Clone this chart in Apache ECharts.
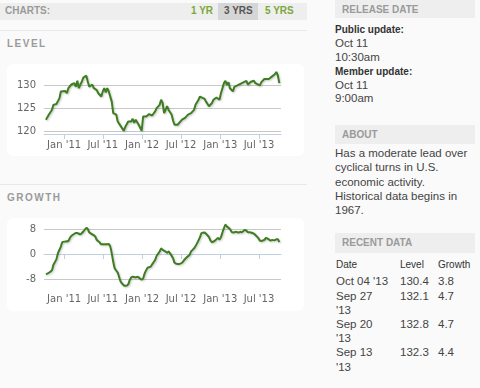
<!DOCTYPE html>
<html>
<head>
<meta charset="utf-8">
<script src="https://cdn.jsdelivr.net/npm/echarts@6/dist/echarts.min.js"></script>
<style>
  html, body { margin:0; padding:0; width:480px; height:388px; background:#fafafa; overflow:hidden; font-family:"Liberation Sans", Arial, sans-serif; }
  .abs { position:absolute; white-space:nowrap; }
  .bar { position:absolute; background:#eeeeee; }
  .hdr { position:absolute; font-size:10px; font-weight:bold; color:#9a9a9a; line-height:12px; }
  .box { position:absolute; background:#ffffff; border-radius:6px; }
  .sep { position:absolute; height:1px; background:#e8e8e8; }
  .lbl { position:absolute; font-size:10px; font-weight:bold; color:#333; line-height:12px; }
  .txt { position:absolute; font-size:11.5px; color:#444; line-height:14px; white-space:nowrap; }
  .th  { position:absolute; font-size:10px; color:#333; line-height:12px; }
  #chart { position:absolute; left:0; top:0; width:480px; height:388px; }
</style>
</head>
<body>
<!-- left column chrome -->
<div class="bar" style="left:0;top:3px;width:307px;height:17px;"></div>
<div class="bar" style="left:218px;top:3px;width:40px;height:17px;background:#d6d6d6;"></div>
<div class="hdr" style="left:5px;top:5px;">CHARTS:</div>
<div class="hdr" style="left:191px;top:5px;color:#7aa83a;">1 YR</div>
<div class="hdr" style="left:224px;top:5px;color:#555;">3 YRS</div>
<div class="hdr" style="left:265px;top:5px;color:#7aa83a;">5 YRS</div>
<div class="sep" style="left:0;top:30px;width:307px;"></div>
<div class="hdr" style="left:7px;top:38px;letter-spacing:1.5px;">LEVEL</div>
<div class="box" style="left:7px;top:64px;width:297px;height:92px;"></div>
<div class="sep" style="left:0;top:184px;width:307px;"></div>
<div class="hdr" style="left:7px;top:192px;letter-spacing:1.5px;">GROWTH</div>
<div class="box" style="left:7px;top:218px;width:297px;height:93px;"></div>

<!-- right column -->
<div class="bar" style="left:335px;top:0;width:140px;height:18px;"></div>
<div class="hdr" style="left:342px;top:4px;">RELEASE DATE</div>
<div class="lbl" style="left:335px;top:24px;">Public update:</div>
<div class="txt" style="left:335px;top:36px;">Oct 11</div>
<div class="txt" style="left:335px;top:50px;">10:30am</div>
<div class="lbl" style="left:335px;top:66px;">Member update:</div>
<div class="txt" style="left:335px;top:78px;">Oct 11</div>
<div class="txt" style="left:335px;top:91px;">9:00am</div>

<div class="bar" style="left:335px;top:125px;width:140px;height:19px;"></div>
<div class="hdr" style="left:342px;top:129px;">ABOUT</div>
<div class="txt" style="left:335px;top:146px;">Has a moderate lead over</div>
<div class="txt" style="left:335px;top:160px;">cyclical turns in U.S.</div>
<div class="txt" style="left:335px;top:175px;">economic activity.</div>
<div class="txt" style="left:335px;top:189px;">Historical data begins in</div>
<div class="txt" style="left:335px;top:203px;">1967.</div>

<div class="bar" style="left:335px;top:233px;width:140px;height:20px;"></div>
<div class="hdr" style="left:342px;top:237px;">RECENT DATA</div>
<div class="th" style="left:336px;top:259px;">Date</div>
<div class="th" style="left:400px;top:259px;">Level</div>
<div class="th" style="left:438px;top:259px;">Growth</div>

<div class="txt" style="left:336px;top:274px;">Oct 04 '13</div>
<div class="txt" style="left:400px;top:274px;">130.4</div>
<div class="txt" style="left:438px;top:274px;">3.8</div>

<div class="txt" style="left:336px;top:289px;">Sep 27</div>
<div class="txt" style="left:336px;top:303px;">'13</div>
<div class="txt" style="left:400px;top:289px;">132.1</div>
<div class="txt" style="left:438px;top:289px;">4.7</div>

<div class="txt" style="left:336px;top:317px;">Sep 20</div>
<div class="txt" style="left:336px;top:331px;">'13</div>
<div class="txt" style="left:400px;top:317px;">132.8</div>
<div class="txt" style="left:438px;top:317px;">4.7</div>

<div class="txt" style="left:336px;top:345px;">Sep 13</div>
<div class="txt" style="left:336px;top:360px;">'13</div>
<div class="txt" style="left:400px;top:345px;">132.3</div>
<div class="txt" style="left:438px;top:345px;">4.4</div>

<div id="chart"></div>
<script>
// Weekly series; week 0 = Oct 8 2010, week 156 = Oct 4 2013
const firstWeek = '2010-10-08';

const levelWeeks = [0,2,4,5,6,7,9,10,11,13,14,15,17,18,19,20,21,22,23,24,25,26,27,28,29,31,32,34,35,37,38,39,40,41,42,44,45,46,47,48,50,52,53,55,56,57,58,59,60,62,63,64,65,67,68,69,71,73,74,76,77,78,79,80,81,82,84,85,86,87,88,89,91,92,93,94,95,97,99,100,102,103,104,106,107,109,111,112,114,115,116,117,119,120,121,122,123,125,126,128,129,131,132,134,135,137,139,140,141,143,144,146,147,149,150,151,152,153,154,155,156];
const levelValues = [122.5,123.6,124.6,125.7,126.0,125.9,127.1,128.6,128.9,128.7,128.2,129.3,130.1,129.9,130.4,129.6,130.9,129.3,130.1,130.7,131.6,131.3,132.0,130.7,129.6,130.1,129.3,128.9,128.2,127.5,128.6,129.3,128.4,129.3,128.6,126.4,123.9,123.6,123.6,122.1,121.1,120.1,120.9,122.1,122.5,122.1,122.7,121.8,122.5,121.4,121.1,120.1,123.2,123.2,123.6,123.7,123.4,124.3,125.0,125.7,126.8,126.1,123.9,124.3,125.4,124.6,123.6,122.3,121.4,121.8,121.4,121.8,122.5,122.7,122.9,123.2,123.6,123.9,124.6,125.7,126.8,127.5,127.1,127.0,126.4,125.4,126.1,126.8,127.3,127.5,126.8,128.2,130.4,130.9,130.0,130.6,129.3,128.6,129.6,129.9,129.6,130.4,130.7,130.9,130.1,130.7,130.9,130.4,130.0,129.9,130.6,131.3,131.1,131.3,131.6,131.8,132.0,132.3,132.8,132.1,130.4];

const growthWeeks = [0,2,4,5,7,8,10,11,13,15,16,17,19,20,21,23,24,25,27,28,29,31,33,34,36,37,39,40,42,43,44,45,46,48,49,50,52,53,55,56,57,58,60,61,62,64,65,66,67,68,70,71,73,74,76,77,78,80,81,82,83,85,86,88,89,91,92,93,94,96,97,99,101,103,104,106,107,109,110,111,113,115,116,117,118,119,120,121,123,124,125,127,129,130,131,133,134,135,137,139,140,142,143,144,146,147,149,150,151,153,154,155,156];
const growthValues = [-6.5,-6.0,-5.2,-3.5,-1.7,0.2,2.4,3.8,4.0,4.2,5.1,5.8,6.5,6.7,6.7,6.3,6.7,7.2,8.3,8.0,6.9,6.3,5.6,4.5,3.7,3.1,3.1,3.1,3.2,2.4,0.2,-2.5,-4.6,-6.0,-7.5,-8.9,-10.0,-10.2,-9.7,-8.4,-7.5,-7.3,-7.5,-7.3,-7.5,-8.2,-7.8,-6.2,-5.2,-4.4,-4.1,-3.3,-1.9,-0.6,0.8,1.8,1.3,0.8,0.4,0.8,0.2,-1.4,-2.8,-3.2,-3.2,-2.8,-2.2,-1.6,-1.1,-0.3,0.8,1.8,3.4,5.4,6.7,6.9,6.5,5.4,4.3,3.8,4.3,5.1,4.7,5.4,6.9,8.3,9.4,8.8,8.0,7.2,6.9,7.1,6.9,7.1,7.0,7.7,7.5,7.0,6.9,6.5,6.1,5.1,4.3,4.2,4.5,5.1,4.7,4.3,4.5,4.4,4.7,4.7,3.8];

const tickDates = ['2011-01-01','2011-07-01','2012-01-01','2012-07-01','2013-01-01','2013-07-01'];
const tickLabels = ["Jan '11","Jul '11","Jan '12","Jul '12","Jan '13","Jul '13"];
const levelTicks = [120, 125, 130];
const growthTicks = [-8, 0, 8];

const DAY = 86400000;
const t0 = Date.parse(firstWeek + 'T00:00:00Z');
function toPairs(weeks, vals) { return weeks.map((w, i) => [t0 + w * 7 * DAY, vals[i]]); }
const tickTimes = tickDates.map(d => Date.parse(d + 'T00:00:00Z'));
const xMin = Date.parse('2010-09-29T00:00:00Z');
const xMax = Date.parse('2013-10-12T00:00:00Z');

function xAxisFor(gridIndex) {
  return {
    type: 'value', gridIndex, min: xMin, max: xMax,
    axisLine: { show: true, lineStyle: { color: '#c0d0e0', width: 1 } },
    axisTick: { show: true, length: 5, customValues: tickTimes, lineStyle: { color: '#c0d0e0' } },
    axisLabel: {
      customValues: tickTimes, margin: 6, color: '#666', fontFamily: 'DejaVu Sans', fontSize: 10,
      formatter: v => { const i = tickTimes.indexOf(v); return i >= 0 ? tickLabels[i] : ''; }
    },
    splitLine: { show: false }
  };
}
function yAxisFor(gridIndex, min, max, ticks) {
  return {
    type: 'value', gridIndex, min, max,
    axisLine: { show: false },
    axisTick: { show: false, customValues: ticks },
    axisLabel: { customValues: ticks, margin: 8, color: '#666', fontFamily: 'DejaVu Sans', fontSize: 10 },
    splitLine: { show: true, lineStyle: { color: '#c8c8c8', width: 1 } }
  };
}
const lineStyle = { color: '#3f7d22', width: 2, shadowColor: 'rgba(0,0,0,0.22)', shadowBlur: 2, shadowOffsetX: 1, shadowOffsetY: 1 };

const chart = echarts.init(document.getElementById('chart'), null, { renderer: 'canvas' });
chart.setOption({
  animation: false,
  backgroundColor: 'transparent',
  grid: [
    { left: 44, top: 66, width: 237, height: 68 },
    { left: 44, top: 220, width: 237, height: 68 }
  ],
  xAxis: [xAxisFor(0), xAxisFor(1)],
  yAxis: [yAxisFor(0, 119.4, 134.1, levelTicks), yAxisFor(1, -10.9, 10.9, growthTicks)],
  series: [
    { type: 'line', xAxisIndex: 0, yAxisIndex: 0, data: toPairs(levelWeeks, levelValues), showSymbol: false, lineStyle },
    { type: 'line', xAxisIndex: 1, yAxisIndex: 1, data: toPairs(growthWeeks, growthValues), showSymbol: false, smooth: 0.2, lineStyle }
  ]
});
</script>
</body>
</html>
